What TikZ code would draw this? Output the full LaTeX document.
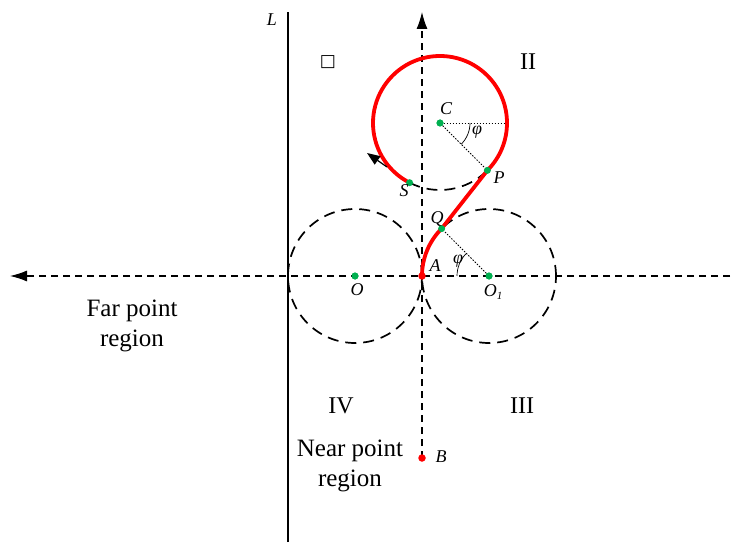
\documentclass[tikz,border=0pt]{standalone}
\usepackage{fontspec}
\setmainfont{Liberation Serif}
\newfontfamily\symfont{DejaVu Sans}
\usetikzlibrary{arrows.meta,calc}
\definecolor{dotgreen}{RGB}{0,176,80}
\definecolor{pathred}{RGB}{255,0,0}
\begin{document}
\begin{tikzpicture}[x=1pt,y=1pt,
  axis/.style={line width=1.1pt,dash pattern=on 7pt off 5pt},
  circdash/.style={line width=1.7pt,dash pattern=on 11pt off 7pt},
  thin dotted/.style={line width=0.8pt,dash pattern=on 1.5pt off 1.5pt},
  gdot/.style={circle,fill=dotgreen,inner sep=0pt,minimum size=7pt},
  rdot/.style={circle,fill=pathred,inner sep=0pt,minimum size=7.5pt},
  lab/.style={font=\fontsize{18}{20}\selectfont\itshape,inner sep=0pt},
  big/.style={font=\fontsize{25}{30}\selectfont,align=center,inner sep=0pt},
  roman/.style={font=\fontsize{24}{30}\selectfont,inner sep=0pt}]
\useasboundingbox (0,0) rectangle (734,542);
% key points
\coordinate (A) at (422,266);
\node[gdot] (O) at (355,266) {};
\node[gdot] (O1) at (489,266) {};
\node[gdot] (C) at (440,419) {};
\coordinate (P) at ($(440,419)+(-45:67)$);
\coordinate (Q) at ($(489,266)+(135:67)$);
\coordinate (S) at ($(440,419)+(243:67)$);
\coordinate (Cr) at (507,419);
\coordinate (Ltop) at (288,530);
\coordinate (Lbot) at (288,0);
\coordinate (Hr) at (730,266);
\coordinate (Hl) at (10,266);
\coordinate (Vt) at (422,530);
\coordinate (Bp) at (422,84);
% L line
\draw[line width=2pt] (Lbot) -- (Ltop);
\node[lab] (Llab) at (272,522) {L};
% axes
\draw[axis,-{Latex[length=17pt,width=11pt]}] (Hr) -- (Hl);
\draw[axis,-{Latex[length=17pt,width=11pt]}] (Bp) -- (Vt);
% dashed circles
\draw[circdash] (O) circle[radius=67];
\draw[circdash] (O1) circle[radius=67];
\draw[circdash] (S) arc[start angle=243,end angle=315,radius=67];
% dotted lines
\draw[thin dotted] (C) -- (Cr);
\draw[thin dotted] (C) -- (P);
\draw[thin dotted] (O1) -- (Q);
\draw[line width=0.7pt] ($(C)+(0:30)$) arc[start angle=0,end angle=-45,radius=30];
\draw[line width=0.7pt] ($(O1)+(180:32)$) arc[start angle=180,end angle=135,radius=32];
% red path
\draw[pathred,line width=3.8pt] (A) arc[start angle=180,end angle=135,radius=67] -- (P)
  arc[start angle=-45,end angle=243,radius=67];
% direction arrow
\coordinate (ar1) at (387,375);
\coordinate (ar2) at (367,389);
\draw[line width=1.2pt,-{Triangle[length=13pt,width=10pt]}] (ar1) -- (ar2);
% dots
\node[gdot] at (P) {};
\node[gdot] at (Q) {};
\node[gdot] at (S) {};
\node[gdot] at (O) {};
\node[gdot] at (O1) {};
\node[gdot] at (C) {};
\node[rdot] at (A) {};
\node[rdot] (B) at (Bp) {};
% labels
\node[lab] (Clab) at (446,433) {C};
\node[lab] (Plab) at (499,364) {P};
\node[lab] (Slab) at (404,351) {S};
\node[lab] (Qlab) at (437,323) {Q};
\node[lab] (Alab) at (435,276) {A};
\node[lab] (Olab) at (357,252) {O};
\node[lab] (O1lab) at (493,250) {O\raisebox{-0.35ex}{\fontsize{11}{12}\selectfont 1}};
\node[lab] (Blab) at (441,85) {B};
\node[lab] (phi1) at (477,410) {φ};
\node[lab] (phi2) at (458,281) {φ};
\node[font=\fontsize{17}{18}\selectfont\symfont,inner sep=0pt] (q1) at (328,480) {□};
\node[roman] (q2) at (528,480) {II};
\node[roman] (q4) at (341,136) {IV};
\node[roman] (q3) at (522,136) {III};
\node[big] (far) at (132,216) {Far point\\region};
\node[big] (near) at (350,76) {Near point\\region};
\end{tikzpicture}
\end{document}
